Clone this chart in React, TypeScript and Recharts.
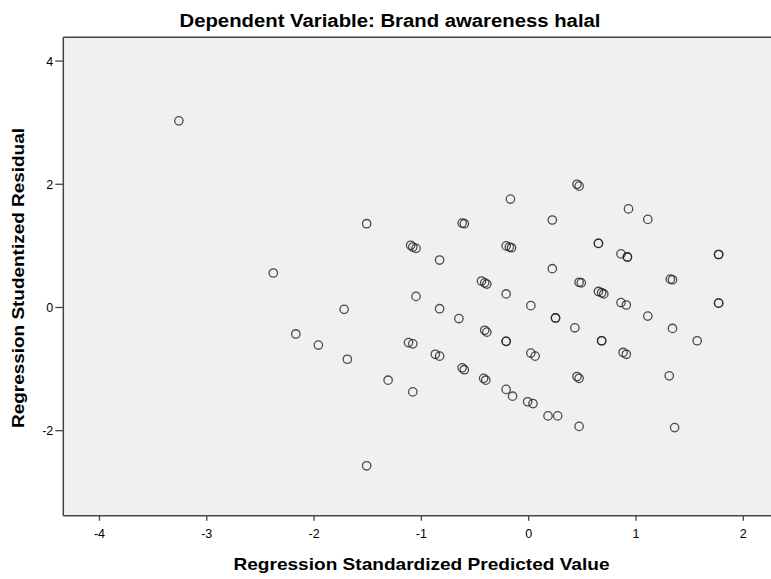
import React from "react";
import { ScatterChart, Scatter, XAxis, YAxis, CartesianGrid, ReferenceLine } from "recharts";

const chartTitle = "Dependent Variable: Brand awareness halal";
const xTitle = "Regression Standardized Predicted Value";
const yTitle = "Regression Studentized Residual";

const xTicks = [-4, -3, -2, -1, 0, 1, 2];
const yTicks = [-2, 0, 2, 4];

const predicted = [
  -3.26, -2.38, -2.17, -1.96, -1.72, -1.69, -1.51, -1.51, -1.31,
  -1.10, -1.08, -1.05, -0.83, -1.05, -0.83, -0.65, -1.12, -1.08,
  -0.87, -0.83, -1.08, -0.62, -0.60, -0.62, -0.60, -0.44, -0.41,
  -0.39, -0.41, -0.39, -0.42, -0.40, -0.21, -0.18, -0.16, -0.21,
  -0.21, -0.21, -0.21, -0.15, -0.17, -0.01, 0.04, 0.02, 0.02,
  0.06, 0.18, 0.27, 0.47, 0.45, 0.47, 1.31, 1.36, 0.45,
  0.47, 0.93, 0.22, 1.11, 0.65, 0.65, 0.86, 0.92, 0.92,
  1.77, 1.77, 0.22, 0.47, 0.49, 1.32, 1.34, 0.65, 0.68,
  0.70, 0.86, 0.91, 1.77, 1.77, 0.25, 0.25, 1.11, 0.43,
  1.34, 0.68, 0.68, 1.57, 0.88, 0.91,
];

const residual = [
  3.03, 0.56, -0.43, -0.61, -0.03, -0.84, 1.36, -2.57, -1.18,
  1.01, 0.98, 0.96, 0.77, 0.18, -0.02, -0.18, -0.57, -0.59,
  -0.76, -0.79, -1.37, 1.37, 1.36, -0.98, -1.01, 0.43, 0.40,
  0.38, -0.37, -0.40, -1.15, -1.18, 1.00, 0.98, 0.97, 0.22,
  -0.55, -0.55, -1.33, -1.44, 1.76, -1.53, -1.56, 0.03, -0.74,
  -0.79, -1.76, -1.76, -1.93, -1.12, -1.15, -1.11, -1.95, 2.00,
  1.97, 1.60, 1.42, 1.43, 1.04, 1.04, 0.87, 0.82, 0.82,
  0.86, 0.86, 0.63, 0.41, 0.40, 0.46, 0.45, 0.26, 0.24,
  0.22, 0.08, 0.04, 0.07, 0.07, -0.17, -0.17, -0.14, -0.33,
  -0.34, -0.54, -0.54, -0.54, -0.73, -0.76,
];

const points = predicted.map((x, i) => ({ x, y: residual[i] }));

const FONT = "'Liberation Sans', Arial, sans-serif";
const BORDER = "#444";

const Ring = (props: any) => {
  const { cx, cy } = props;
  if (cx == null || cy == null) return null;
  return <circle cx={cx} cy={cy} r={4.2} fill="none" stroke="#222" strokeOpacity={0.8} strokeWidth={1.3} />;
};

export default function App() {
  return (
    <div style={{ position: "absolute", left: 0, top: 0, width: 771, height: 579, overflow: "hidden", background: "#fff", fontFamily: FONT }}>
      <ScatterChart width={780} height={579} margin={{ top: 37.3, right: 0, bottom: 0, left: 0 }}>
        <CartesianGrid fill="#f0f0f0" horizontal={false} vertical={false} />
        <XAxis
          type="number"
          dataKey="x"
          domain={[-4.337, 2.342]}
          ticks={xTicks}
          allowDataOverflow
          height={63.3}
          tickSize={5}
          tickMargin={8}
          axisLine={{ stroke: BORDER, strokeWidth: 1.5 }}
          tickLine={{ stroke: BORDER, strokeWidth: 1.3 }}
          tick={{ fill: "#000", fontSize: 12.5, fontFamily: FONT }}
        />
        <YAxis
          type="number"
          dataKey="y"
          domain={[-3.38, 4.386]}
          ticks={yTicks}
          allowDataOverflow
          width={63.3}
          tickSize={8}
          tickMargin={2}
          axisLine={{ stroke: BORDER, strokeWidth: 1.5 }}
          tickLine={{ stroke: BORDER, strokeWidth: 1.3 }}
          tick={{ fill: "#000", fontSize: 12.5, fontFamily: FONT }}
        />
        <ReferenceLine y={4.386} stroke={BORDER} strokeWidth={1.5} />
        <Scatter data={points} shape={Ring} isAnimationActive={false} />
      </ScatterChart>
      <svg width={771} height={579} style={{ position: "absolute", left: 0, top: 0, pointerEvents: "none" }}>
        <text x={390} y={27} textAnchor="middle" fontSize={18} fontWeight="bold" fontFamily={FONT} fill="#000" textLength={421} lengthAdjust="spacingAndGlyphs">
          {chartTitle}
        </text>
        <text x={421.5} y={570} textAnchor="middle" fontSize={17} fontWeight="bold" fontFamily={FONT} fill="#000" textLength={376} lengthAdjust="spacingAndGlyphs">
          {xTitle}
        </text>
        <text x={0} y={0} transform="translate(24,278) rotate(-90)" textAnchor="middle" fontSize={17} fontWeight="bold" fontFamily={FONT} fill="#000" textLength={300} lengthAdjust="spacingAndGlyphs">
          {yTitle}
        </text>
      </svg>
    </div>
  );
}
